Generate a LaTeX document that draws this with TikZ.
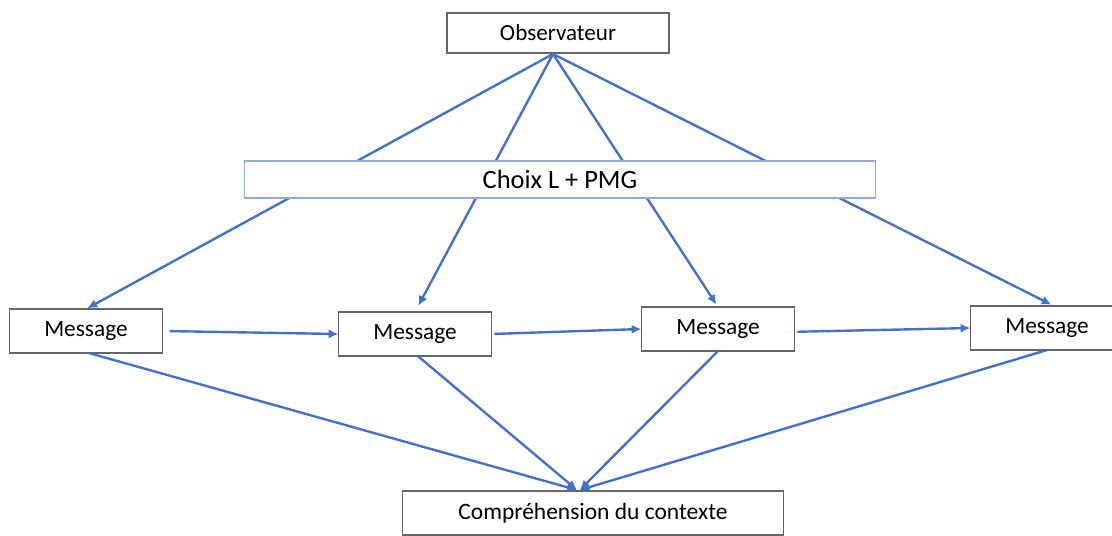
\documentclass[tikz,border=0pt]{standalone}
\usepackage{fontspec}
\setmainfont{Carlito}
\usetikzlibrary{arrows.meta}

\definecolor{fleche}{RGB}{68,114,196}
\definecolor{bordbleu}{RGB}{143,170,220}

\tikzstyle{boite} = [rectangle, draw=gray!80!black, line width=0.8pt, fill=white, text centered, inner sep=0pt, outer sep=0pt]
\tikzstyle{obs} = [boite, minimum width=5.55cm, minimum height=1cm, font=\fontsize{16.4}{18}\selectfont]
\tikzstyle{choix} = [boite, draw=bordbleu, minimum width=15.75cm, minimum height=0.925cm, font=\fontsize{18.8}{21}\selectfont]
\tikzstyle{msg} = [boite, minimum width=3.825cm, minimum height=1.1cm, font=\fontsize{16.6}{18}\selectfont]
\tikzstyle{compr} = [boite, minimum width=9.525cm, minimum height=1.1cm, font=\fontsize{16.7}{18}\selectfont]
\tikzstyle{lien} = [draw=fleche, line width=1.7pt, -{Latex[length=7pt,width=6.5pt]}]

\begin{document}
\begin{tikzpicture}[x=0.025cm, y=-0.025cm]

    \clip (0,0) rectangle (1112,535);
    \fill[white] (0,0) rectangle (1112,535);

    %  nodes
    \node[obs] (O) at (558,33) {Observateur};
    \coordinate (Op) at (553,54);

    \node[msg] (M1) at (86,331) {Message};
    \node[msg] (M2) at (415,334) {Message};
    \node[msg] (M3) at (718,329) {Message};
    \node[msg] (M4) at (1047,328) {Message};

    \node[compr] (C) at (593,513) {Compréhension du contexte};
    \coordinate (Cp) at (577,490);

    %-------------------------------------------------------------
    \draw[lien, shorten >=1pt] (Op) -- (M1.north);
    \draw[lien, shorten >=5pt] (Op) -- (M2.north);
    \draw[lien, shorten >=2pt] (Op) -- (M3.north);
    \draw[lien, shorten >=2pt] (Op) -- ([xshift=5]M4.north);

    % la boite passe devant les fleches
    \node[choix] (CH) at (560,179.5) {Choix L + PMG};

    %-------------------------------------------------------------
    \draw[lien, shorten <=5pt] (M1.east) -- (M2.west);
    \draw[lien, shorten <=2pt] (M2.east) -- (M3.west);
    \draw[lien, shorten <=2pt] ([yshift=-2]M3.east) -- (M4.west);

    %-----------------------------------------------------------
    \draw[lien] ([xshift=2]M1.south) -- (Cp);
    \draw[lien] ([xshift=2]M2.south) -- (Cp);
    \draw[lien] (M3.south) -- ([xshift=2]Cp);
    \draw[lien] (M4.south) -- ([xshift=2]Cp);

  \end{tikzpicture}
\end{document}
